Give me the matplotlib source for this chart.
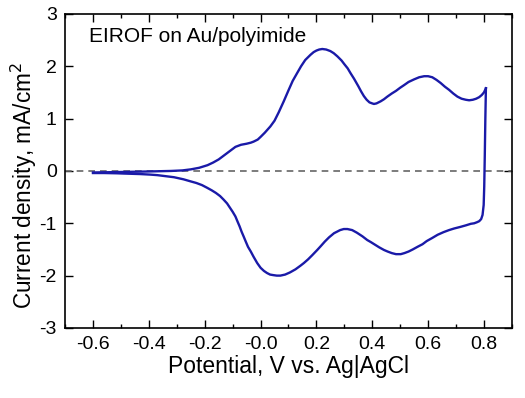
import matplotlib
matplotlib.use("Agg")
import matplotlib.pyplot as plt
from matplotlib.ticker import MultipleLocator

plt.rcParams['font.family'] = ['Liberation Sans', 'DejaVu Sans']

# anodic sweep (-0.6 -> 0.8 V)
E_fwd = [-0.60, -0.50, -0.40, -0.32, -0.28, -0.25, -0.22, -0.19, -0.17, -0.15, -0.13,
         -0.11, -0.09, -0.07, -0.05, -0.035, -0.025, -0.01, 0.0, 0.015, 0.035,
         0.05, 0.065, 0.083, 0.10, 0.115, 0.131, 0.145, 0.16, 0.179, 0.19, 0.20, 0.21,
         0.221, 0.235, 0.25, 0.262, 0.275, 0.29, 0.30, 0.312, 0.322, 0.335,
         0.35, 0.36, 0.37, 0.38, 0.39, 0.40, 0.406, 0.415, 0.43, 0.442, 0.454, 0.47,
         0.485, 0.50, 0.514, 0.53, 0.55, 0.568, 0.586, 0.60, 0.615, 0.63, 0.645, 0.66,
         0.675, 0.69, 0.705, 0.72, 0.735, 0.747, 0.76, 0.772, 0.783, 0.792, 0.800, 0.807]
j_fwd = [-0.03, -0.02, -0.01, 0.0, 0.01, 0.03, 0.06, 0.11, 0.16, 0.22, 0.30,
         0.38, 0.46, 0.50, 0.52, 0.54, 0.56, 0.60, 0.65, 0.73, 0.85,
         0.96, 1.12, 1.33, 1.54, 1.72, 1.87, 2.00, 2.12, 2.22, 2.27, 2.30, 2.32,
         2.33, 2.32, 2.29, 2.25, 2.19, 2.11, 2.04, 1.96, 1.87, 1.76,
         1.62, 1.52, 1.43, 1.36, 1.31, 1.29, 1.28, 1.29, 1.33, 1.37, 1.42, 1.48,
         1.53, 1.59, 1.64, 1.70, 1.75, 1.79, 1.81, 1.81, 1.79, 1.74, 1.68, 1.61,
         1.55, 1.48, 1.42, 1.38, 1.36, 1.35, 1.36, 1.38, 1.41, 1.45, 1.50, 1.58]

# cathodic sweep (0.8 -> -0.6 V)
E_rev = [0.807, 0.805, 0.803, 0.801, 0.799, 0.795, 0.790, 0.783, 0.775, 0.765,
         0.753, 0.735, 0.715, 0.693, 0.675, 0.655, 0.634,
         0.615, 0.595, 0.58, 0.562, 0.545, 0.53, 0.515, 0.502, 0.485, 0.47, 0.455,
         0.442, 0.425, 0.41, 0.395, 0.382, 0.365, 0.345, 0.328, 0.311, 0.298, 0.285,
         0.274, 0.263, 0.245, 0.23, 0.215, 0.203, 0.185, 0.17, 0.155, 0.143, 0.125,
         0.105, 0.088, 0.071, 0.058, 0.045, 0.034, 0.023, 0.012, 0.0, -0.012, -0.025,
         -0.035, -0.045, -0.053, -0.06, -0.068, -0.075, -0.083, -0.09, -0.10, -0.11,
         -0.12, -0.132, -0.145, -0.16, -0.175, -0.192, -0.21, -0.23, -0.25, -0.276,
         -0.31, -0.34, -0.37, -0.395, -0.43, -0.46, -0.49, -0.515, -0.56, -0.60]
j_rev = [1.58, 1.0, 0.3, -0.3, -0.65, -0.84, -0.92, -0.96, -0.98, -1.00,
         -1.01, -1.04, -1.07, -1.10, -1.13, -1.17, -1.22,
         -1.28, -1.34, -1.40, -1.45, -1.50, -1.54, -1.57, -1.59, -1.59, -1.57, -1.54,
         -1.51, -1.46, -1.41, -1.36, -1.32, -1.25, -1.18, -1.13, -1.11, -1.11, -1.13,
         -1.16, -1.19, -1.27, -1.35, -1.44, -1.51, -1.61, -1.69, -1.76, -1.81, -1.88,
         -1.94, -1.98, -2.00, -2.00, -1.99, -1.98, -1.95, -1.91, -1.85, -1.76, -1.64,
         -1.54, -1.45, -1.35, -1.26, -1.16, -1.06, -0.96, -0.87, -0.78, -0.70,
         -0.62, -0.55, -0.48, -0.42, -0.37, -0.32, -0.27, -0.23, -0.20, -0.16,
         -0.12, -0.10, -0.08, -0.07, -0.06, -0.055, -0.05, -0.045, -0.04, -0.04]

fig = plt.figure(figsize=(5.25, 3.98), dpi=100)
ax = fig.add_axes([0.124, 0.176, 0.851, 0.789])

ax.axhline(0, color='#666666', linestyle='--', linewidth=1.2, dashes=(4, 3))
ax.plot(E_fwd, j_fwd, color='#1a1aa8', linewidth=1.7)
ax.plot(E_rev, j_rev, color='#1a1aa8', linewidth=1.7)

ax.set_xlim(-0.7, 0.9)
ax.set_ylim(-3, 3)
ax.xaxis.set_minor_locator(MultipleLocator(0.1))
ax.set_xticks([-0.6, -0.4, -0.2, 0.0, 0.2, 0.4, 0.6, 0.8])
ax.set_xticklabels(['-0.6', '-0.4', '-0.2', '-0.0', '0.2', '0.4', '0.6', '0.8'])
ax.set_yticks([-3, -2, -1, 0, 1, 2, 3])
ax.set_yticklabels(['-3', '-2', '-1', '0', '1', '2', '3'])
ax.tick_params(which='both', direction='in', top=True, right=True, labelsize=14, width=1)
ax.tick_params(which='major', length=6, pad=6)
ax.tick_params(which='minor', length=3)
for s in ax.spines.values():
    s.set_linewidth(1.2)

ax.set_xlabel('Potential, V vs. Ag|AgCl', fontsize=16.5, labelpad=1)
ax.set_ylabel('Current density, mA/cm$^2$', fontsize=16.3)
ax.yaxis.set_label_coords(-0.058, 0.455)
ax.text(-0.615, 2.56, 'EIROF on Au/polyimide', fontsize=15, va='center', ha='left')

fig.savefig('out.png', dpi=100)
